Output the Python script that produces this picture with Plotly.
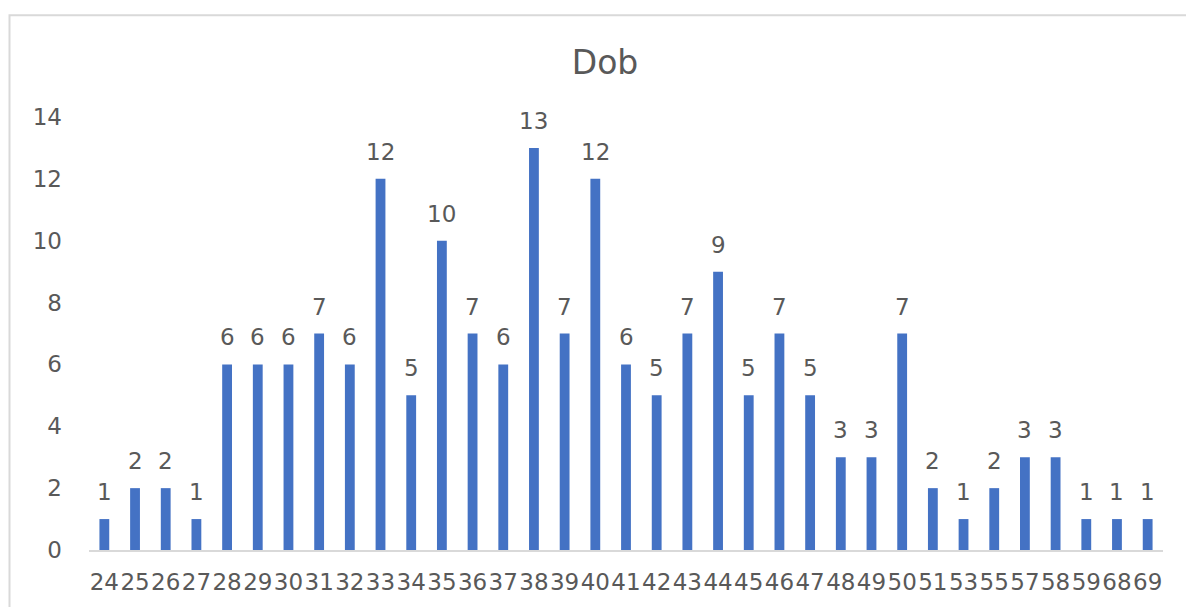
import plotly.graph_objects as go

# Count of records per Dob value
categories = ["24", "25", "26", "27", "28", "29", "30", "31", "32", "33", "34", "35",
              "36", "37", "38", "39", "40", "41", "42", "43", "44", "45", "46", "47",
              "48", "49", "50", "51", "53", "55", "57", "58", "59", "68", "69"]
counts = [1, 2, 2, 1, 6, 6, 6, 7, 6, 12, 5, 10, 7, 6, 13, 7, 12, 6, 5, 7, 9, 5, 7, 5,
          3, 3, 7, 2, 1, 2, 3, 3, 1, 1, 1]
y_ticks = [0, 2, 4, 6, 8, 10, 12, 14]

BAR_COLOR = "#4472C4"
TEXT_COLOR = "#595959"
FONT = "DejaVu Sans"

W, H = 1186, 607
ML, MR, MT, MB = 89, 23, 117, 54
PW, PH = W - ML - MR, H - MT - MB

fig = go.Figure(go.Bar(
    x=categories,
    y=counts,
    marker=dict(color=BAR_COLOR, line=dict(width=0)),
    hoverinfo="x+y",
))

# value labels above each bar (category axis: numeric x is the category index)
annotations = [
    dict(x=i, y=v, xref="x", yref="y", text=str(v), showarrow=False,
         yanchor="middle", yshift=27,
         font=dict(family=FONT, size=23, color=TEXT_COLOR))
    for i, v in enumerate(counts)
]

# light chart-area border
shapes = [dict(type="rect", xref="paper", yref="paper",
               x0=(9.5 - ML) / PW, x1=1.1,
               y0=(H - MB - 14.5) / PH, y1=-0.3,
               line=dict(color="#D9D9D9", width=2), fillcolor="rgba(0,0,0,0)",
               layer="below")]

fig.update_layout(
    width=W, height=H,
    margin=dict(l=ML, r=MR, t=MT, b=MB, pad=0),
    paper_bgcolor="white", plot_bgcolor="white",
    showlegend=False,
    bargap=0.68,
    title=dict(text="Dob", x=605 / W, xanchor="center", y=1 - 62 / H, yanchor="middle",
               font=dict(family=FONT, size=33, color=TEXT_COLOR)),
    font=dict(family=FONT, size=23, color=TEXT_COLOR),
    annotations=annotations,
    shapes=shapes,
    xaxis=dict(type="category", range=[-0.5, len(categories) - 0.5],
               tickmode="array", tickvals=categories, ticktext=categories,
               tickangle=0, showgrid=False, showline=True, linecolor="#D9D9D9", linewidth=2,
               ticks="", ticklabelstandoff=10,
               tickfont=dict(family=FONT, size=23, color=TEXT_COLOR)),
    yaxis=dict(range=[0, 14], tickmode="array", tickvals=y_ticks, showgrid=False,
               zeroline=False, showline=False, ticks="", ticklabelstandoff=26,
               tickfont=dict(family=FONT, size=23, color=TEXT_COLOR)),
)

fig.write_html("out.html")
